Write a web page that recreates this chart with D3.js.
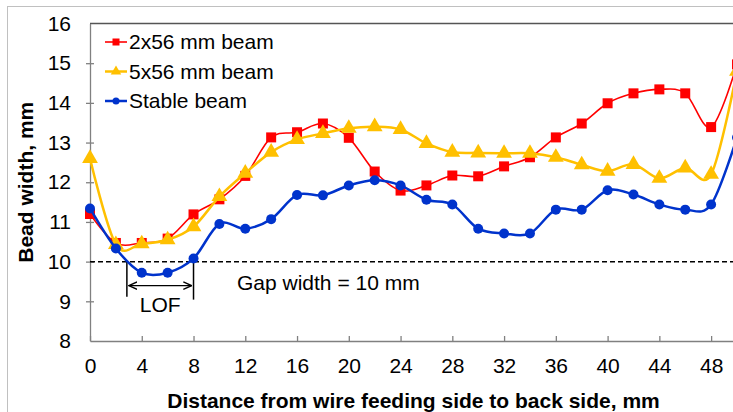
<!DOCTYPE html>
<html>
<head>
<meta charset="utf-8">
<script src="https://cdn.jsdelivr.net/npm/d3@7"></script>
<style>
  body { margin: 0; background: #fff; }
  svg { display: block; font-family: "Liberation Sans", Arial, sans-serif; }
  .axis text { font-size: 21px; fill: #000; }
  .axis path, .axis line { stroke: #808080; stroke-width: 1.3; }
  .title { font-size: 21px; font-weight: bold; }
</style>
</head>
<body>
<div id="chart"></div>
<script>
const width = 733,
  height = 412,
  margin = { top: 23.5, bottom: 71, left: 90, right: -4 };

// distance along the gap, mm
const distance = [0, 2, 4, 6, 8, 10, 12, 14, 16, 18, 20, 22, 24, 26, 28, 30, 32, 34, 36, 38, 40, 42, 44, 46, 48, 50];

// bead width, mm
const beam2x56 = [11.2, 10.47, 10.47, 10.58, 11.19, 11.57, 12.16, 13.13, 13.26, 13.48, 13.12, 12.27, 11.79, 11.92, 12.17, 12.15, 12.4, 12.63, 13.13, 13.48, 13.99, 14.24, 14.34, 14.24, 13.39, 14.97];
const beam5x56 = [12.6, 10.43, 10.45, 10.55, 10.88, 11.64, 12.23, 12.76, 13.08, 13.23, 13.36, 13.4, 13.33, 12.98, 12.76, 12.74, 12.73, 12.73, 12.63, 12.44, 12.28, 12.45, 12.1, 12.36, 12.2, 14.8];
const stableBeam = [11.34, 10.33, 9.72, 9.72, 10.08, 10.95, 10.83, 11.07, 11.68, 11.67, 11.92, 12.05, 11.92, 11.56, 11.44, 10.83, 10.71, 10.71, 11.31, 11.31, 11.8, 11.69, 11.44, 11.31, 11.44, 13.13];

const seriesNames = ["2x56 mm beam", "5x56 mm beam", "Stable beam"];
const xTicks = [0, 4, 8, 12, 16, 20, 24, 28, 32, 36, 40, 44, 48];
const yTicks = [8, 9, 10, 11, 12, 13, 14, 15, 16];
const gapWidth = 10;
const lofRange = [2.85, 8];

const series = [
  { name: seriesNames[0], values: beam2x56, color: "#FF0000", lw: 1.6, marker: "square" },
  { name: seriesNames[1], values: beam5x56, color: "#FFC000", lw: 2.5, marker: "triangle" },
  { name: seriesNames[2], values: stableBeam, color: "#0033CC", lw: 2.5, marker: "circle" }
];

const svg = d3.select("#chart").append("svg")
  .attr("width", width)
  .attr("height", height);

// outer chart frame
svg.append("rect")
  .attr("x", 7.5).attr("y", 6.5)
  .attr("width", 760).attr("height", 420)
  .attr("fill", "none")
  .attr("stroke", "#c0c0c0");

const x = d3.scaleLinear().domain([0, 50]).range([margin.left, width - margin.right]);
const y = d3.scaleLinear().domain([8, 16]).range([height - margin.bottom, margin.top]);

// plot top border
svg.append("line")
  .attr("x1", x(0)).attr("x2", x(50))
  .attr("y1", y(16)).attr("y2", y(16))
  .attr("stroke", "#555").attr("stroke-width", 1.5);

// axes
const xAxisG = svg.append("g")
  .attr("class", "axis")
  .attr("transform", "translate(0," + y(8) + ")")
  .call(d3.axisBottom(x).tickValues(xTicks).tickSizeInner(-5).tickSizeOuter(0).tickPadding(17));

const yAxisG = svg.append("g")
  .attr("class", "axis")
  .attr("transform", "translate(" + x(0) + ",0)")
  .call(d3.axisLeft(y).tickValues(yTicks).tickSizeInner(4).tickSizeOuter(0).tickPadding(15));
yAxisG.selectAll(".tick line").attr("x2", 4).attr("x1", -4);
yAxisG.selectAll(".tick").filter(d => d === 8 || d === 16).select("line").remove();

// gap line
svg.append("line")
  .attr("x1", x(0)).attr("x2", x(50))
  .attr("y1", y(gapWidth)).attr("y2", y(gapWidth))
  .attr("stroke", "#000").attr("stroke-width", 1.5)
  .attr("stroke-dasharray", "5,3");

svg.append("text")
  .attr("x", 237).attr("y", y(gapWidth) + 28)
  .attr("font-size", 21)
  .text("Gap width = " + gapWidth + " mm");

// LOF annotation
svg.append("defs").append("marker")
  .attr("id", "arrow")
  .attr("viewBox", "0 0 10 10")
  .attr("refX", 9).attr("refY", 5)
  .attr("markerWidth", 7).attr("markerHeight", 7)
  .attr("orient", "auto-start-reverse")
  .append("path")
  .attr("d", "M0,1L9,5L0,9")
  .attr("fill", "none").attr("stroke", "#000").attr("stroke-width", 1.5);

svg.selectAll(".lof-bound")
  .data(lofRange)
  .join("line")
  .attr("class", "lof-bound")
  .attr("x1", d => x(d)).attr("x2", d => x(d))
  .attr("y1", y(gapWidth)).attr("y2", (d, i) => y(gapWidth) + 35 + i * 3)
  .attr("stroke", "#000").attr("stroke-width", 1.5);

svg.append("line")
  .attr("x1", x(lofRange[0]) + 2).attr("x2", x(lofRange[1]) - 2)
  .attr("y1", y(gapWidth) + 24).attr("y2", y(gapWidth) + 24)
  .attr("stroke", "#000").attr("stroke-width", 1.3)
  .attr("marker-start", "url(#arrow)")
  .attr("marker-end", "url(#arrow)");

svg.append("text")
  .attr("x", (x(lofRange[0]) + x(lofRange[1])) / 2)
  .attr("y", y(gapWidth) + 50)
  .attr("text-anchor", "middle")
  .attr("font-size", 21)
  .text("LOF");

// series
const line = d3.line()
  .x((d, i) => x(distance[i]))
  .y(d => y(d))
  .curve(d3.curveCatmullRom.alpha(0));

function drawMarker(g, type, color, s) {
  if (type === "square") {
    g.append("rect").attr("x", -s / 2).attr("y", -s / 2).attr("width", s).attr("height", s).attr("fill", color);
  } else if (type === "triangle") {
    g.append("path").attr("d", d3.symbol(d3.symbolTriangle, s * s * 0.75)()).attr("fill", color);
  } else {
    g.append("circle").attr("r", s / 2).attr("fill", color);
  }
}

series.forEach(s => {
  svg.append("path")
    .attr("d", line(s.values))
    .attr("fill", "none")
    .attr("stroke", s.color)
    .attr("stroke-width", s.lw);

  svg.append("g")
    .selectAll("g")
    .data(s.values)
    .join("g")
    .attr("transform", (d, i) => "translate(" + x(distance[i]) + "," + y(d) + ")")
    .each(function() {
      const size = s.marker === "square" ? 10 : s.marker === "triangle" ? 12 : 10;
      drawMarker(d3.select(this), s.marker, s.color, size);
    });
});

// legend
const legend = svg.append("g")
  .selectAll("g")
  .data(series)
  .join("g")
  .attr("transform", (d, i) => "translate(105," + (42 + i * 29.5) + ")");

legend.append("line")
  .attr("x1", 0).attr("x2", 22)
  .attr("stroke", d => d.color)
  .attr("stroke-width", d => d.lw);

legend.each(function(d) {
  const g = d3.select(this).append("g").attr("transform", "translate(11,0)");
  drawMarker(g, d.marker, d.color, d.marker === "triangle" ? 8 : 7);
});

legend.append("text")
  .attr("x", 24)
  .attr("dy", "0.35em")
  .attr("font-size", 21)
  .text(d => d.name);

// axis titles
svg.append("text")
  .attr("class", "title")
  .attr("x", (x(0) + x(50)) / 2)
  .attr("y", 408)
  .attr("text-anchor", "middle")
  .text("Distance from wire feeding side to back side, mm");

svg.append("text")
  .attr("class", "title")
  .attr("transform", "translate(33," + (y(8) + y(16)) / 2 + ") rotate(-90)")
  .attr("text-anchor", "middle")
  .text("Bead width, mm");
</script>
</body>
</html>
